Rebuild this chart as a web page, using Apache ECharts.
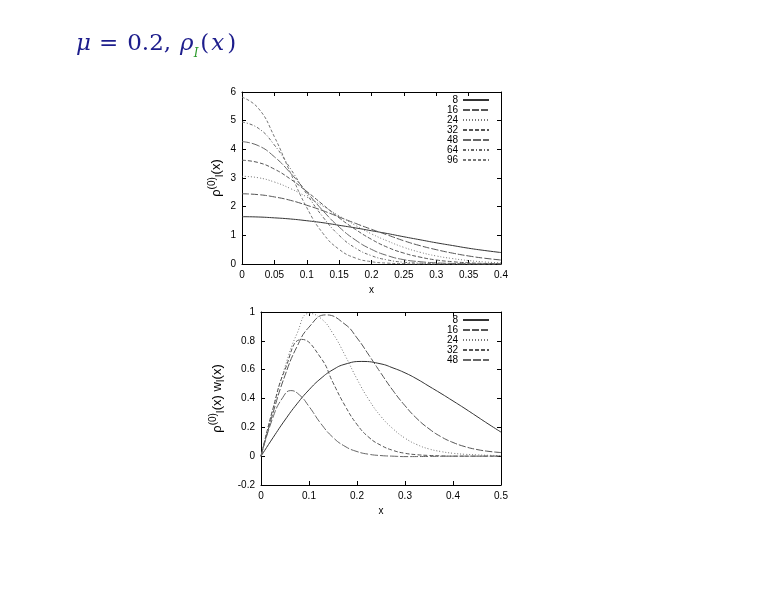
<!DOCTYPE html>
<html><head><meta charset="utf-8">
<script src="https://cdn.jsdelivr.net/npm/echarts@6/dist/echarts.min.js"></script>
<style>html,body{margin:0;padding:0;background:#fff}#c{width:776px;height:600px}</style>
</head><body><div id="c"></div>
<script>
// ---- top panel: rho^(0)_I(x) ----
const topX = [0, 0.025, 0.05, 0.075, 0.1, 0.125, 0.15, 0.175, 0.2, 0.225, 0.25, 0.275, 0.3, 0.325, 0.35, 0.375, 0.4];
const topNames = ['8', '16', '24', '32', '48', '64', '96'];
const topN8  = [1.65, 1.64, 1.61, 1.57, 1.51, 1.44, 1.35, 1.26, 1.16, 1.06, 0.95, 0.845, 0.74, 0.645, 0.55, 0.47, 0.40];
const topN16 = [2.45, 2.42, 2.34, 2.22, 2.05, 1.86, 1.64, 1.42, 1.21, 1.01, 0.81, 0.64, 0.50, 0.38, 0.28, 0.20, 0.14];
const topN24 = [3.06, 3.01, 2.86, 2.63, 2.34, 2.02, 1.68, 1.35, 1.05, 0.80, 0.58, 0.41, 0.28, 0.19, 0.12, 0.07, 0.04];
const topN32 = [3.62, 3.54, 3.31, 2.96, 2.53, 2.07, 1.61, 1.21, 0.86, 0.58, 0.38, 0.24, 0.14, 0.08, 0.04, 0.02, 0.01];
const topN48 = [4.27, 4.13, 3.74, 3.17, 2.51, 1.86, 1.29, 0.84, 0.51, 0.29, 0.15, 0.08, 0.04, 0.02, 0.01, 0.00, 0.00];
const topN64 = [4.95, 4.74, 4.15, 3.32, 2.44, 1.64, 1.00, 0.56, 0.29, 0.14, 0.06, 0.03, 0.01, 0.00, 0.00, 0.00, 0.00];
const topN96 = [5.82, 5.44, 4.44, 3.17, 1.97, 1.07, 0.51, 0.21, 0.08, 0.03, 0.01, 0.00, 0.00, 0.00, 0.00, 0.00, 0.00];
const topSeries = [topN8, topN16, topN24, topN32, topN48, topN64, topN96];
const topXTicks = {min: 0, max: 0.4, interval: 0.05};
const topYTicks = {min: 0, max: 6, interval: 1};

// ---- bottom panel: rho^(0)_I(x) w_I(x) (each curve sampled at its own x, peak included) ----
const botNames = ['8', '16', '24', '32', '48'];
const bot8X  = [0, 0.025, 0.05, 0.075, 0.1, 0.125, 0.15, 0.175, 0.21, 0.25, 0.275, 0.3, 0.325, 0.35, 0.375, 0.4, 0.425, 0.45, 0.475, 0.5];
const bot8Y  = [0, 0.128, 0.251, 0.363, 0.46, 0.54, 0.60, 0.638, 0.657, 0.64, 0.612, 0.578, 0.535, 0.485, 0.435, 0.383, 0.33, 0.275, 0.22, 0.167];
const bot16X = [0, 0.025, 0.05, 0.075, 0.1, 0.135, 0.175, 0.2, 0.225, 0.25, 0.275, 0.3, 0.325, 0.35, 0.375, 0.4, 0.425, 0.45, 0.475, 0.5];
const bot16Y = [0, 0.30, 0.56, 0.76, 0.895, 0.98, 0.915, 0.82, 0.70, 0.575, 0.455, 0.35, 0.26, 0.19, 0.135, 0.095, 0.066, 0.046, 0.033, 0.025];
const bot24X = [0, 0.025, 0.05, 0.075, 0.1, 0.125, 0.15, 0.175, 0.2, 0.225, 0.25, 0.275, 0.3, 0.325, 0.35, 0.375, 0.4, 0.425, 0.45, 0.475, 0.5];
const bot24Y = [0, 0.33, 0.62, 0.85, 0.99, 0.955, 0.85, 0.70, 0.535, 0.39, 0.275, 0.19, 0.125, 0.08, 0.05, 0.032, 0.02, 0.013, 0.009, 0.006, 0.004];
const bot32X = [0, 0.025, 0.05, 0.085, 0.125, 0.15, 0.175, 0.2, 0.225, 0.25, 0.275, 0.3, 0.325, 0.35, 0.375, 0.4, 0.45, 0.5];
const bot32Y = [0, 0.33, 0.60, 0.81, 0.68, 0.51, 0.35, 0.22, 0.13, 0.075, 0.04, 0.02, 0.01, 0.005, 0.002, 0, 0, 0];
const bot48X = [0, 0.025, 0.045, 0.062, 0.08, 0.1, 0.125, 0.15, 0.175, 0.2, 0.225, 0.25, 0.275, 0.3, 0.35, 0.4, 0.45, 0.5];
const bot48Y = [0, 0.27, 0.405, 0.455, 0.425, 0.345, 0.225, 0.13, 0.068, 0.032, 0.013, 0.004, 0, -0.003, -0.002, 0, 0, 0];
const botSeriesX = [bot8X, bot16X, bot24X, bot32X, bot48X];
const botSeriesY = [bot8Y, bot16Y, bot24Y, bot32Y, bot48Y];
const botXTicks = {min: 0, max: 0.5, interval: 0.1};
const botYTicks = {min: -0.2, max: 1, interval: 0.2};

const styles = {
  '8':  {color: '#333333', type: 'solid'},
  '16': {color: '#555555', type: [7, 2]},
  '24': {color: '#777777', type: [1, 2]},
  '32': {color: '#555555', type: [4, 2]},
  '48': {color: '#666666', type: [8, 2]},
  '64': {color: '#666666', type: [3, 2, 1, 2]},
  '96': {color: '#777777', type: [3, 2]}
};

const FONT = '"Liberation Sans", Arial, Helvetica, sans-serif';
const SERIF = '"DejaVu Serif", "Liberation Serif", serif';
const fmt = v => String(parseFloat(v.toFixed(3)));

function axis(gridIndex, pos, ticks, labels, extra) {
  return Object.assign({
    type: 'value', gridIndex: gridIndex, position: pos,
    min: ticks.min, max: ticks.max, interval: ticks.interval,
    axisLine: {show: true, onZero: false, lineStyle: {color: '#000', width: 1}},
    axisTick: {show: true, inside: true, length: 4, lineStyle: {color: '#000'}},
    axisLabel: {show: labels, color: '#000', fontSize: 10, fontFamily: FONT, margin: 6, formatter: fmt},
    splitLine: {show: false}
  }, extra || {});
}

const yNameRich = {
  a: {fontSize: 13, fontFamily: FONT, color: '#000', lineHeight: 18},
  s: {fontSize: 10, fontFamily: FONT, color: '#000', lineHeight: 10, verticalAlign: 'top'},
  b: {fontSize: 10, fontFamily: FONT, color: '#000', lineHeight: 10, verticalAlign: 'bottom'}
};

const series = [];
topNames.forEach((n, k) => {
  series.push({
    name: n, type: 'line', xAxisIndex: 0, yAxisIndex: 0, smooth: true,
    symbol: 'none', showSymbol: false, animation: false,
    lineStyle: {width: 1, color: styles[n].color, type: styles[n].type},
    itemStyle: {color: styles[n].color},
    data: topX.map((x, i) => [x, topSeries[k][i]])
  });
});
botNames.forEach((n, k) => {
  series.push({
    name: n, type: 'line', xAxisIndex: 2, yAxisIndex: 2, smooth: true,
    symbol: 'none', showSymbol: false, animation: false,
    lineStyle: {width: 1, color: styles[n].color, type: styles[n].type},
    itemStyle: {color: styles[n].color},
    data: botSeriesX[k].map((x, i) => [x, botSeriesY[k][i]])
  });
});

const legendBase = {
  orient: 'vertical', align: 'right', right: 286, padding: 0,
  itemWidth: 26, itemHeight: 9.7, itemGap: 0, selectedMode: false,
  itemStyle: {opacity: 0, borderWidth: 0},
  textStyle: {fontSize: 10, fontFamily: FONT, color: '#000', lineHeight: 10}
};

const T = {fontSize: 23, fontFamily: SERIF, fontWeight: 'normal', color: '#1d1d8c', lineHeight: 32};
const chart = echarts.init(document.getElementById('c'), null, {renderer: 'canvas'});
chart.setOption({
  animation: false,
  backgroundColor: '#fff',
  title: {
    left: 71, top: 23,
    text: '{it|μ}{eq|=}{nm|0.2,}{it|ρ}{g|I}{pa|(}{ix|x}{pa|)}',
    textStyle: {
      fontWeight: 'normal',
      rich: {
        it: Object.assign({}, T, {fontStyle: 'italic'}),
        ix: Object.assign({}, T, {fontStyle: 'italic', padding: [0, 3, 0, 2]}),
        pa: Object.assign({}, T),
        nm: Object.assign({}, T, {padding: [0, 9, 0, 0]}),
        eq: Object.assign({}, T, {padding: [0, 9, 0, 8]}),
        g: {fontSize: 12, fontFamily: SERIF, fontStyle: 'italic', fontWeight: 'normal', color: '#2a9a2a', lineHeight: 12, verticalAlign: 'bottom', padding: [0, 2, 0, 0]}
      }
    }
  },
  legend: [
    Object.assign({data: topNames, top: 95}, legendBase),
    Object.assign({data: botNames, top: 315}, legendBase)
  ],
  grid: [
    {left: 242, top: 92, width: 259, height: 172},
    {left: 261, top: 312, width: 240, height: 173}
  ],
  xAxis: [
    axis(0, 'bottom', topXTicks, true, {name: 'x', nameLocation: 'middle', nameGap: 21,
      nameTextStyle: {fontSize: 10, fontFamily: FONT, color: '#000'}}),
    axis(0, 'top', topXTicks, false),
    axis(1, 'bottom', botXTicks, true, {name: 'x', nameLocation: 'middle', nameGap: 21,
      nameTextStyle: {fontSize: 10, fontFamily: FONT, color: '#000'}}),
    axis(1, 'top', botXTicks, false)
  ],
  yAxis: [
    axis(0, 'left', topYTicks, true, {name: '{a|ρ}{s|(0)}{b|I}{a|(x)}', nameLocation: 'middle', nameGap: 17,
      nameTextStyle: {rich: yNameRich}}),
    axis(0, 'right', topYTicks, false),
    axis(1, 'left', botYTicks, true, {name: '{a|ρ}{s|(0)}{b|I}{a|(x) w}{b|I}{a|(x)}', nameLocation: 'middle', nameGap: 35,
      nameTextStyle: {rich: yNameRich}}),
    axis(1, 'right', botYTicks, false)
  ],
  series: series
});
</script>
</body></html>
